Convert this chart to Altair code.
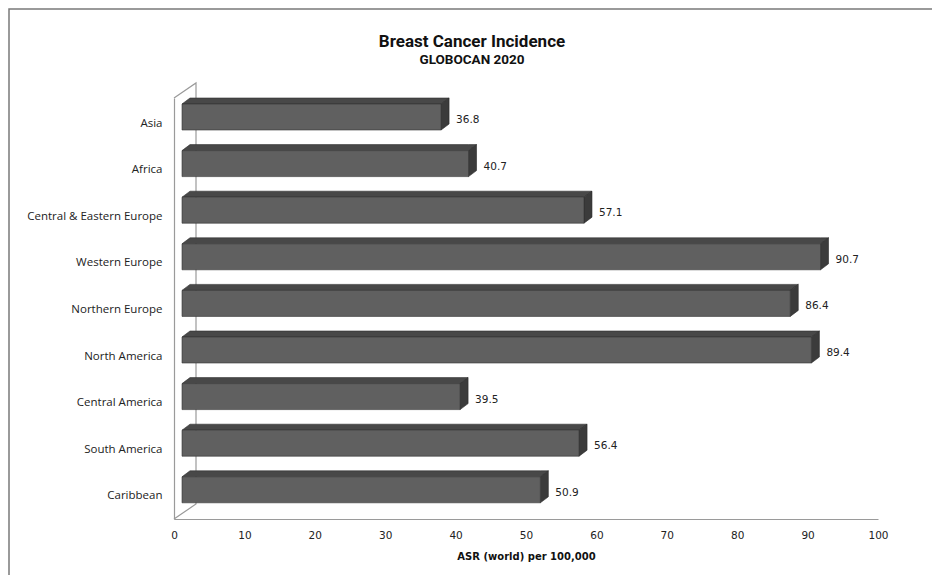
import json

import altair as alt
import pandas as pd

# Breast cancer incidence by region, age-standardised rate (world) per 100,000
regions = [
    "Asia",
    "Africa",
    "Central & Eastern Europe",
    "Western Europe",
    "Northern Europe",
    "North America",
    "Central America",
    "South America",
    "Caribbean",
]
asr = [36.8, 40.7, 57.1, 90.7, 86.4, 89.4, 39.5, 56.4, 50.9]
x_ticks = list(range(0, 101, 10))

# ---- pseudo-3D geometry (plot is 704 x 421 px, x domain 0-100) ----
W, H = 704, 421
PX_X = W / 100.0            # pixels per ASR unit
ROW = 46.6                  # pixels per category row
Y_TOP = -25 / ROW           # domain top so row 0 sits 25px below the frame
Y_BOT = Y_TOP + H / ROW
SET_BACK = 8 / PX_X         # bars start behind the front wall
DX = 8 / PX_X               # bar depth, horizontal
DY = 6 / ROW                # bar depth, vertical
FACE_T = -19 / ROW          # front face top relative to row centre
FACE_B = 7 / ROW            # front face bottom relative to row centre
WALL_DX = 22 / PX_X
WALL_DY = 15 / ROW

front_rows, top_rows, side_rows = [], [], []
for i, (name, v) in enumerate(zip(regions, asr)):
    x0, x1 = SET_BACK, SET_BACK + v
    yt, yb = i + FACE_T, i + FACE_B
    front_rows.append(dict(region=name, asr=v, x0=x0, x1=x1, yt=yt, yb=yb,
                           xl=x1 + DX, ym=(yt + yb) / 2))
    for px, a, b in [(x0, yt, yt), (x0 + DX, yt, yt - DY),
                     (x1, yt, yt - DY), (x1 + DX, yt - DY, yt - DY)]:
        top_rows.append(dict(region=name, x=px, y=a, y2=b))
    for px, a, b in [(x1, yb, yt), (x1 + DX, yb - DY, yt - DY)]:
        side_rows.append(dict(region=name, x=px, y=a, y2=b))

front = pd.DataFrame(front_rows)
top = pd.DataFrame(top_rows)
side = pd.DataFrame(side_rows)
wall = pd.DataFrame({
    "k": [0, 1, 2, 3],
    "x": [0, WALL_DX, WALL_DX, 0],
    "y": [Y_TOP, Y_TOP - WALL_DY, Y_BOT - WALL_DY, Y_BOT],
})

label_expr = f"{json.dumps(regions)}[datum.value]"

xs = alt.Scale(domain=[0, 100], nice=False, zero=False)
ys = alt.Scale(domain=[Y_TOP, Y_BOT], reverse=True, nice=False, zero=False)

x_axis = alt.Axis(
    values=x_ticks, grid=False, ticks=False, domainColor="#9a9a9a",
    domainWidth=1.2, labelFont="DejaVu Sans", labelFontSize=10.5,
    labelColor="#222222", labelPadding=11, labelFlush=False,
    title="ASR (world) per 100,000",
    titleFont="DejaVu Sans", titleFontWeight="bold", titleFontSize=10,
    titleColor="#111111", titlePadding=11,
)
y_axis = alt.Axis(
    values=list(range(len(regions))), labelExpr=label_expr, grid=False,
    ticks=False, domainColor="#9a9a9a", domainWidth=1.2, labelFont="Open Sans",
    labelFontSize=11.5, labelColor="#222222", labelPadding=12, title=None,
)

X = lambda f: alt.X(f"{f}:Q", scale=xs, axis=x_axis, title="ASR (world) per 100,000")
Y = lambda f: alt.Y(f"{f}:Q", scale=ys, axis=y_axis, title=None)

walls = alt.Chart(wall).mark_line(color="#9a9a9a", strokeWidth=1.2).encode(
    x=X("x"), y=Y("y"), order="k:Q"
)

top_faces = alt.Chart(top).mark_area(
    color="#484848", stroke="#2f2f2f", strokeWidth=0.6
).encode(x=X("x"), y=Y("y"), y2="y2:Q", detail="region:N")

side_faces = alt.Chart(side).mark_area(
    color="#3b3b3b", stroke="#2a2a2a", strokeWidth=0.6
).encode(x=X("x"), y=Y("y"), y2="y2:Q", detail="region:N")

front_faces = alt.Chart(front).mark_rect(
    color="#606060", stroke="#333333", strokeWidth=0.6
).encode(x=X("x0"), x2="x1:Q", y=Y("yt"), y2="yb:Q")

values_text = alt.Chart(front).mark_text(
    align="left", baseline="middle", dx=7, dy=3, font="DejaVu Sans",
    fontSize=10.5, color="#222222"
).encode(x=X("xl"), y=Y("ym"), text=alt.Text("asr:Q", format=".1f"))

frame = alt.Chart(alt.Data(values=[{}])).mark_rect(
    fill=None, stroke="#7a7a7a", strokeWidth=1.5
).encode(
    x=alt.value(9 - 174), x2=alt.value(W + 80),
    y=alt.value(9 - 98), y2=alt.value(H + 80),
)

chart = alt.layer(
    frame, walls, top_faces, side_faces, front_faces, values_text
).properties(
    width=W,
    height=H,
    padding={"left": 174, "top": 98, "right": 54, "bottom": 56},
    autosize=alt.AutoSizeParams(type="none"),
    title=alt.TitleParams(
        "Breast Cancer Incidence",
        subtitle="GLOBOCAN 2020",
        anchor="middle",
        frame="group",
        dx=-54,
        dy=87,
        offset=28,
        font="Roboto",
        fontSize=17,
        fontWeight="bold",
        color="#111111",
        subtitleFont="Roboto",
        subtitleFontSize=13.5,
        subtitleFontWeight="bold",
        subtitleColor="#111111",
        subtitlePadding=2,
    ),
).configure_view(stroke=None)

chart.save("out.html", embed_options={"renderer": "svg", "actions": False})
